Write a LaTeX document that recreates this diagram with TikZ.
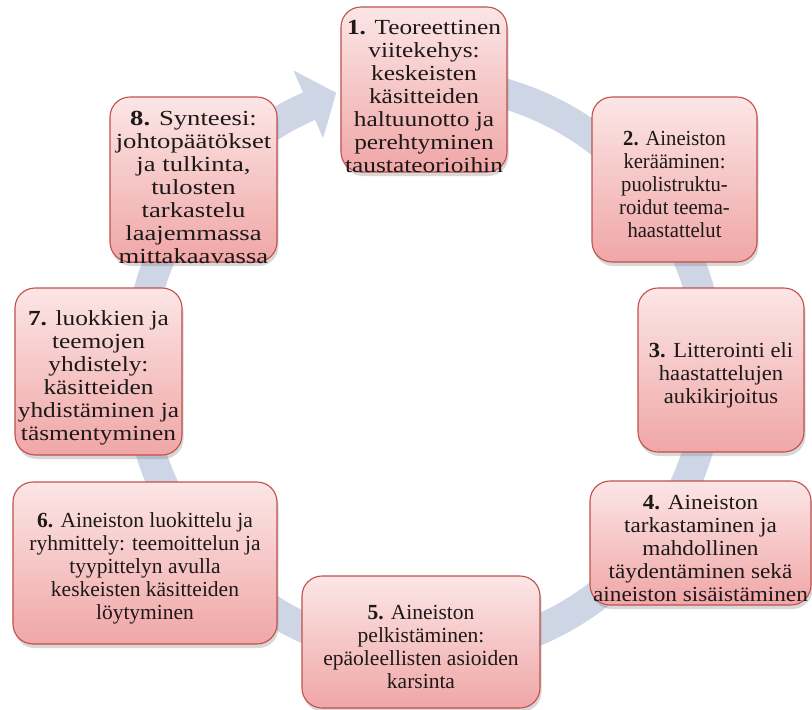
\documentclass[tikz,border=0pt]{standalone}
\usepackage{fontspec}
\setmainfont{Liberation Serif}
\newfontfamily\famA[FakeStretch=1.18]{Liberation Serif}
\newfontfamily\famB[FakeStretch=0.96]{Liberation Serif}
\newfontfamily\famC[FakeStretch=1.05]{Liberation Serif}
\newfontfamily\famD[FakeStretch=1.08]{Liberation Serif}
\newfontfamily\famE[FakeStretch=1.00]{Liberation Serif}
\newfontfamily\famF[FakeStretch=1.00]{Liberation Serif}
\newfontfamily\famG[FakeStretch=1.18]{Liberation Serif}
\newfontfamily\famH[FakeStretch=1.24]{Liberation Serif}
\usetikzlibrary{shadows,calc}
\definecolor{ringcol}{RGB}{206,214,230}
\definecolor{boxborder}{RGB}{192,80,77}
\definecolor{boxtop}{RGB}{252,230,230}
\definecolor{boxbot}{RGB}{240,166,166}
\definecolor{txtcol}{RGB}{30,25,25}
\tikzset{
  boxst/.style={rounded corners=20pt, draw=boxborder, line width=1.1pt,
    top color=boxtop, bottom color=boxbot, inner sep=0pt,
    drop shadow={shadow xshift=1.5pt, shadow yshift=-4pt, opacity=0.3}},
  txt/.style={align=center, inner sep=0pt, text=txtcol},
}
\newcommand{\fsz}{\fontsize{21.5}{23}\selectfont}
\begin{document}
\begin{tikzpicture}[x=1pt,y=1pt]
\useasboundingbox (0,0) rectangle (812,-710);
\fill[white] (0,0) rectangle (812,-710);
% ring arrow
\coordinate (C) at (424,-368);
\fill[ringcol] ($(C)+(90:301)$) arc[start angle=90,end angle=-246.3,radius=301]
  -- ($(C)+(-246.3:325)$) -- ($(C)+(-252.3:289)$) -- ($(C)+(-246.3:251)$)
  -- ($(C)+(-246.3:271)$) arc[start angle=-246.3,end angle=90,radius=271] -- cycle;
% boxes
\node[boxst, minimum width=166pt, minimum height=165pt] (b1) at (424,-89.5) {};
\node[boxst, minimum width=165pt, minimum height=165pt] (b2) at (674.5,-179.5) {};
\node[boxst, minimum width=166pt, minimum height=164pt] (b3) at (721,-370) {};
\node[boxst, minimum width=221pt, minimum height=124pt] (b4) at (700.5,-543) {};
\node[boxst, minimum width=238pt, minimum height=132pt] (b5) at (421,-642) {};
\node[boxst, minimum width=264pt, minimum height=162pt] (b6) at (145,-563) {};
\node[boxst, minimum width=167pt, minimum height=167pt] (b7) at (98.5,-371.5) {};
\node[boxst, minimum width=167pt, minimum height=165pt] (b8) at (193.5,-179.5) {};
% texts
\node[txt, font=\famA\fsz] (t1) at ([yshift=-7pt]b1.center)
  {\textbf{1.} Teoreettinen\\viitekehys:\\keskeisten\\käsitteiden\\haltuunotto ja\\perehtyminen\\taustateorioihin};
\node[txt, font=\famB\fsz] (t2) at ([yshift=-5pt]b2.center)
  {\textbf{2.} Aineiston\\kerääminen:\\puolistruktu-\\roidut teema-\\haastattelut};
\node[txt, font=\famC\fsz] (t3) at ([yshift=-5pt]b3.center)
  {\textbf{3.} Litterointi eli\\haastattelujen\\aukikirjoitus};
\node[txt, font=\famD\fsz] (t4) at ([yshift=-5pt]b4.center)
  {\textbf{4.} Aineiston\\tarkastaminen ja\\mahdollinen\\täydentäminen sekä\\aineiston sisäistäminen};
\node[txt, font=\famE\fsz] (t5) at ([yshift=-5pt]b5.center)
  {\textbf{5.} Aineiston\\pelkistäminen:\\epäoleellisten asioiden\\karsinta};
\node[txt, font=\famF\fsz] (t6) at ([yshift=-5pt]b6.center)
  {\textbf{6.} Aineiston luokittelu ja\\ryhmittely: teemoittelun ja\\tyypittelyn avulla\\keskeisten käsitteiden\\löytyminen};
\node[txt, font=\famG\fsz] (t7) at ([yshift=-6pt]b7.center)
  {\textbf{7.} luokkien ja\\teemojen\\yhdistely:\\käsitteiden\\yhdistäminen ja\\täsmentyminen};
\node[txt, font=\famH\fsz] (t8) at ([yshift=-8pt]b8.center)
  {\textbf{8.} Synteesi:\\johtopäätökset\\ja tulkinta,\\tulosten\\tarkastelu\\laajemmassa\\mittakaavassa};
\end{tikzpicture}
\end{document}
